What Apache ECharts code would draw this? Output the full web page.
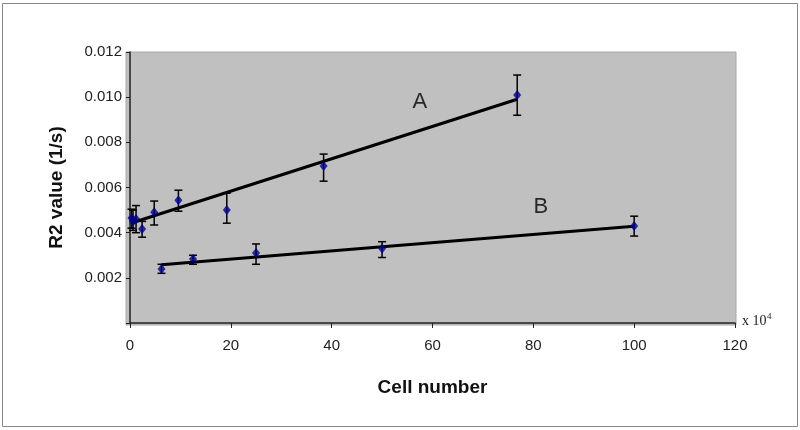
<!DOCTYPE html>
<html><head><meta charset="utf-8">
<script src="https://cdn.jsdelivr.net/npm/echarts@6/dist/echarts.min.js"></script>
<style>html,body{margin:0;padding:0;background:#fff}#c{width:800px;height:430px}</style>
</head><body><div id="c"></div>
<script>
// Series A
const cellsA = [0.3, 0.6, 1.2, 2.4, 4.8, 9.6, 19.2, 38.4, 76.8];
const r2A    = [0.00465, 0.0045, 0.0046, 0.00416, 0.0049, 0.00544, 0.00500, 0.00695, 0.0101];
const errLoA = [0.00420, 0.0041, 0.0040, 0.00380, 0.00434, 0.00495, 0.00442, 0.00628, 0.0092];
const errHiA = [0.00504, 0.0050, 0.0052, 0.00450, 0.0054, 0.00588, 0.00575, 0.00748, 0.01098];
// Series B
const cellsB = [6.25, 12.5, 25, 50, 100];
const r2B    = [0.00239, 0.00283, 0.0031, 0.0033, 0.0043];
const errLoB = [0.0022, 0.0026, 0.0026, 0.0029, 0.00385];
const errHiB = [0.0026, 0.0030, 0.0035, 0.0036, 0.00473];
// Trend line end points
const trendAx = [0.3, 76.8];
const trendAy = [0.00443, 0.00991];
const trendBx = [6.25, 100];
const trendBy = [0.00258, 0.00428];
// Curve labels
const curveLabels = ['A', 'B'];
const curveLabelX = [57.5, 81.5];
const curveLabelY = [0.0098, 0.00512];
const xTicks = [0, 20, 40, 60, 80, 100, 120];
const yTicks = [0.002, 0.004, 0.006, 0.008, 0.010, 0.012];

const zip = (a, b) => a.map((v, i) => [v, b[i]]);
const errData = (x, lo, hi) => x.map((v, i) => [v, lo[i], hi[i]]);

function errRender(params, api) {
  const x = api.value(0), lo = api.value(1), hi = api.value(2);
  const pLo = api.coord([x, lo]), pHi = api.coord([x, hi]);
  const w = 4;
  const style = {stroke: '#000', lineWidth: 1.5};
  return {type: 'group', children: [
    {type: 'line', shape: {x1: pLo[0], y1: pLo[1], x2: pHi[0], y2: pHi[1]}, style},
    {type: 'line', shape: {x1: pLo[0]-w, y1: pLo[1], x2: pLo[0]+w, y2: pLo[1]}, style},
    {type: 'line', shape: {x1: pHi[0]-w, y1: pHi[1], x2: pHi[0]+w, y2: pHi[1]}, style}
  ]};
}

const chart = echarts.init(document.getElementById('c'), null, {renderer: 'canvas'});
chart.setOption({
  animation: false,
  backgroundColor: '#fff',
  graphic: [
    {type: 'rect', shape: {x: 2.5, y: 3.5, width: 795, height: 423}, style: {fill: 'none', stroke: '#888', lineWidth: 1}, z: -10},
    {type: 'rect', shape: {x: 126, y: 52, width: 610, height: 273}, style: {fill: '#c0c0c0', stroke: '#a8a8a8', lineWidth: 1}, z: -5},
    {type: 'text', left: 742, top: 314, style: {text: 'x 10', font: '14px "Liberation Serif", serif', fill: '#222'}},
    {type: 'text', left: 767, top: 312, style: {text: '4', font: '9px "Liberation Serif", serif', fill: '#222'}}
  ],
  grid: {left: 130, right: 65, top: 52, bottom: 107, show: false},
  xAxis: {
    type: 'value', min: 0, max: 120, interval: 20,
    name: 'Cell number', nameLocation: 'middle', nameGap: 55,
    nameTextStyle: {fontFamily: 'Liberation Sans, Arial', fontWeight: 'bold', fontSize: 19, color: '#111'},
    axisLine: {lineStyle: {color: '#222', width: 1.5}},
    axisTick: {show: true, length: 5, lineStyle: {color: '#222'}},
    axisLabel: {fontFamily: 'Liberation Sans, Arial', fontSize: 15, color: '#222', margin: 15,
      formatter: v => xTicks.includes(v) ? String(v) : ''},
    splitLine: {show: false}
  },
  yAxis: {
    type: 'value', min: 0, max: 0.012, interval: 0.002,
    name: 'R2 value (1/s)', nameLocation: 'middle', nameGap: 64,
    nameTextStyle: {fontFamily: 'Liberation Sans, Arial', fontWeight: 'bold', fontSize: 19, color: '#111'},
    axisLine: {lineStyle: {color: '#222', width: 1.5}},
    axisTick: {show: true, length: 4, lineStyle: {color: '#222'}},
    axisLabel: {fontFamily: 'Liberation Sans, Arial', fontSize: 15, color: '#222', margin: 8,
      formatter: v => {
        const t = yTicks.find(y => Math.abs(y - v) < 1e-9);
        return t === undefined ? '' : t.toFixed(3);
      }},
    splitLine: {show: false}
  },
  series: [
    {type: 'line', data: zip(trendAx, trendAy), symbol: 'none', lineStyle: {color: '#000', width: 3}, z: 2},
    {type: 'line', data: zip(trendBx, trendBy), symbol: 'none', lineStyle: {color: '#000', width: 3}, z: 2},
    {type: 'custom', renderItem: errRender, data: errData(cellsA, errLoA, errHiA), z: 3},
    {type: 'custom', renderItem: errRender, data: errData(cellsB, errLoB, errHiB), z: 3},
    {type: 'scatter', data: zip(cellsA, r2A), symbol: 'diamond', symbolSize: [8, 10], itemStyle: {color: '#00008b'}, z: 4},
    {type: 'scatter', data: zip(cellsB, r2B), symbol: 'diamond', symbolSize: [8, 10], itemStyle: {color: '#00008b'}, z: 4},
    {type: 'scatter', data: curveLabels.map((t, i) => ({value: [curveLabelX[i], curveLabelY[i]], name: t})),
      symbolSize: 1, itemStyle: {color: 'rgba(0,0,0,0)'}, z: 5, silent: true,
      label: {show: true, position: 'inside', formatter: p => p.name, fontSize: 22, fontFamily: 'Liberation Sans, Arial', color: '#000'}}
  ]
});
</script></body></html>
